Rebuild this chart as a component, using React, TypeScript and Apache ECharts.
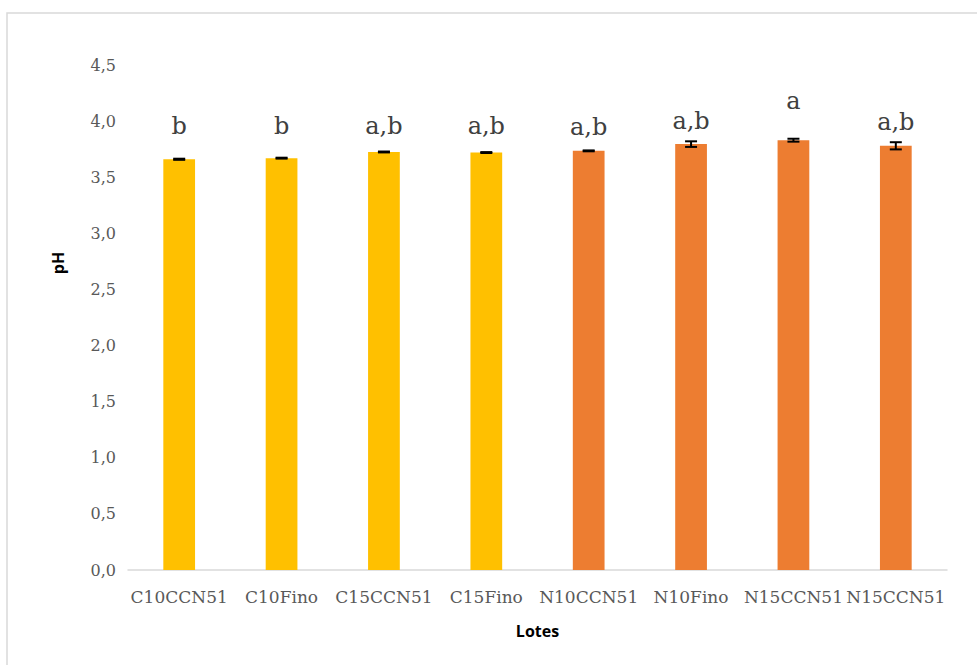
import React, { useEffect, useRef } from "react";
import * as echarts from "echarts";

// Lots (batches) on the category axis
const lotes = [
  "C10CCN51",
  "C10Fino",
  "C15CCN51",
  "C15Fino",
  "N10CCN51",
  "N10Fino",
  "N15CCN51",
  "N15CCN51",
];

// Mean pH per lot
const phMean = [3.66, 3.67, 3.725, 3.72, 3.735, 3.795, 3.83, 3.78];

// Standard error per lot
const phError = [0.005, 0.004, 0.004, 0.004, 0.004, 0.025, 0.013, 0.032];

// Statistical grouping letters
const groupLetters = ["b", "b", "a,b", "a,b", "a,b", "a,b", "a", "a,b"];

// pH level at which each grouping letter sits
const letterLevel = [3.85, 3.85, 3.85, 3.85, 3.84, 3.895, 4.07, 3.885];

// Y-axis range
const yMin = 0;
const yMax = 4.5;
const yStep = 0.5;

const YELLOW = "#FFC000";
const ORANGE = "#ED7D31";

export default function App() {
  const ref = useRef<HTMLDivElement>(null);

  useEffect(() => {
    if (!ref.current) return;
    const chart = echarts.init(ref.current, undefined, { renderer: "svg" });

    const barData = phMean.map((v, i) => ({
      value: v,
      itemStyle: { color: lotes[i].startsWith("C") ? YELLOW : ORANGE },
    }));

    const errData = phMean.map((v, i) => [i, v, phError[i], letterLevel[i]]);

    const serif = "'DejaVu Serif', 'Liberation Serif', serif";
    const sans = "'Open Sans', 'Noto Sans', sans-serif";

    chart.setOption({
      animation: false,
      backgroundColor: "#ffffff",
      graphic: [
        {
          type: "rect",
          shape: { x: 7, y: 13, width: 990, height: 680 },
          style: { fill: "none", stroke: "#d9d9d9", lineWidth: 1.5 },
          silent: true,
        },
        {
          type: "text",
          x: 58,
          y: 263,
          rotation: Math.PI / 2,
          style: {
            text: "pH",
            textAlign: "center",
            textVerticalAlign: "middle",
            fontFamily: sans,
            fontWeight: "bold",
            fontSize: 16,
            fill: "#000000",
          },
        },
      ],
      grid: { left: 128, right: 30, top: 65, bottom: 95 },
      xAxis: {
        type: "category",
        data: lotes,
        name: "Lotes",
        nameLocation: "middle",
        nameGap: 53,
        nameTextStyle: {
          fontFamily: sans,
          fontWeight: "bold",
          fontSize: 16,
          color: "#000000",
        },
        axisLine: { lineStyle: { color: "#d9d9d9", width: 1.5 } },
        axisTick: { show: false },
        axisLabel: {
          interval: 0,
          margin: 18,
          fontFamily: serif,
          fontSize: 17,
          color: "#595959",
        },
      },
      yAxis: {
        type: "value",
        min: yMin,
        max: yMax,
        interval: yStep,
        axisLine: { show: false },
        axisTick: { show: false },
        splitLine: { show: false },
        axisLabel: {
          margin: 12,
          fontFamily: serif,
          fontSize: 16,
          color: "#595959",
          formatter: (v: number) => v.toFixed(1).replace(".", ","),
        },
      },
      series: [
        {
          type: "bar",
          data: barData,
          barWidth: "31%",
        },
        {
          type: "custom",
          data: errData,
          z: 10,
          renderItem: (params: any, api: any) => {
            const x = api.value(0);
            const mean = api.value(1);
            const err = api.value(2);
            const lvl = api.value(3);
            const top = api.coord([x, mean + err]);
            const bot = api.coord([x, mean - err]);
            const lab = api.coord([x, lvl]);
            const half = 6;
            const lineStyle = { stroke: "#000000", lineWidth: 2 };
            return {
              type: "group",
              children: [
                {
                  type: "line",
                  shape: { x1: top[0], y1: top[1], x2: bot[0], y2: bot[1] },
                  style: lineStyle,
                },
                {
                  type: "line",
                  shape: { x1: top[0] - half, y1: top[1], x2: top[0] + half, y2: top[1] },
                  style: lineStyle,
                },
                {
                  type: "line",
                  shape: { x1: bot[0] - half, y1: bot[1], x2: bot[0] + half, y2: bot[1] },
                  style: lineStyle,
                },
                {
                  type: "text",
                  x: lab[0],
                  y: lab[1],
                  style: {
                    text: groupLetters[params.dataIndex],
                    textAlign: "center",
                    textVerticalAlign: "bottom",
                    fill: "#404040",
                    fontFamily: serif,
                    fontSize: 24,
                  },
                },
              ],
            };
          },
        },
      ],
    });

    return () => chart.dispose();
  }, []);

  return (
    <div
      ref={ref}
      style={{ position: "fixed", left: 0, top: 0, width: 977, height: 665 }}
    />
  );
}
